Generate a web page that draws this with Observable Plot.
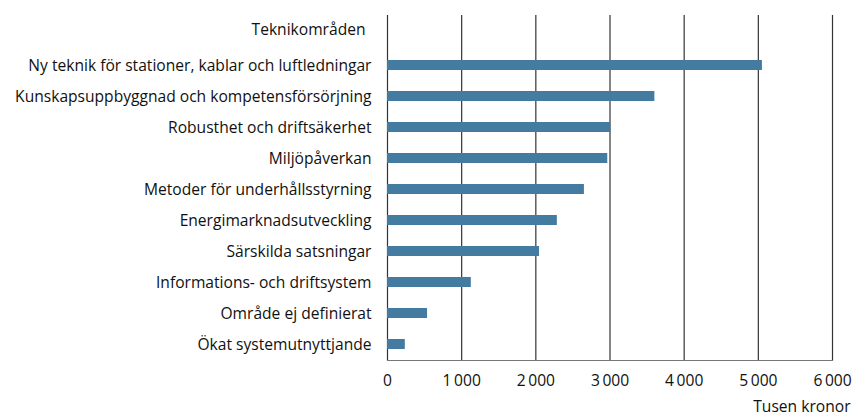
<!DOCTYPE html>
<html>
<head>
<meta charset="utf-8">
<script src="https://cdn.jsdelivr.net/npm/d3@7"></script>
<script src="https://cdn.jsdelivr.net/npm/@observablehq/plot@0.6"></script>
<style>
  html, body { margin: 0; padding: 0; background: #fff; }
  svg { display: block; }
</style>
</head>
<body>
<div id="chart"></div>
<script>
const categories = [
  "Ny teknik för stationer, kablar och luftledningar",
  "Kunskapsuppbyggnad och kompetensförsörjning",
  "Robusthet och driftsäkerhet",
  "Miljöpåverkan",
  "Metoder för underhållsstyrning",
  "Energimarknadsutveckling",
  "Särskilda satsningar",
  "Informations- och driftsystem",
  "Område ej definierat",
  "Ökat systemutnyttjande"
];
const values = [5055, 3605, 3010, 2970, 2655, 2290, 2050, 1130, 540, 240];
const xTicks = [0, 1000, 2000, 3000, 4000, 5000, 6000];
const yTitle = "Teknikområden";
const xTitle = "Tusen kronor";

const data = categories.map((c, i) => ({ category: c, value: values[i] }));
const fmt = d => d3.format(",")(d).replace(/,/g, "\u2009");
const font = "'Open Sans', sans-serif";
const fs = 15.6;

const chart = Plot.plot({
  width: 852,
  height: 417,
  marginLeft: 387,
  marginRight: 20,
  marginTop: 15,
  marginBottom: 57,
  style: { fontFamily: font, fontSize: fs + "px", color: "#111", background: "#fff" },
  x: { domain: [0, 6000], ticks: xTicks },
  y: {
    domain: categories,
    range: [48.1, 359.9],
    paddingInner: 0.68,
    paddingOuter: 0.34
  },
  marks: [
    Plot.ruleX(xTicks, { stroke: "#333", strokeWidth: 1.2 }),
    Plot.barX(data, { x: "value", y: "category", fill: "#447ba1" }),
    Plot.frame({ anchor: "bottom", stroke: "#777", strokeWidth: 1.2 }),
    Plot.axisX(xTicks, {
      tickSize: 0, tickPadding: 14, tickFormat: fmt, label: null,
      fontSize: fs, fill: "#111"
    }),
    Plot.axisY({
      tickSize: 0, tickPadding: 16, label: null, fontSize: fs, fill: "#111"
    }),
    Plot.text([yTitle], {
      frameAnchor: "top-left", textAnchor: "end", dx: -22, dy: 8,
      fontSize: fs, fill: "#111"
    }),
    Plot.text([xTitle], {
      frameAnchor: "bottom-right", textAnchor: "end", dx: 18, dy: 51,
      fontSize: fs, fill: "#111"
    })
  ]
});
document.getElementById("chart").appendChild(chart);
</script>
</body>
</html>
